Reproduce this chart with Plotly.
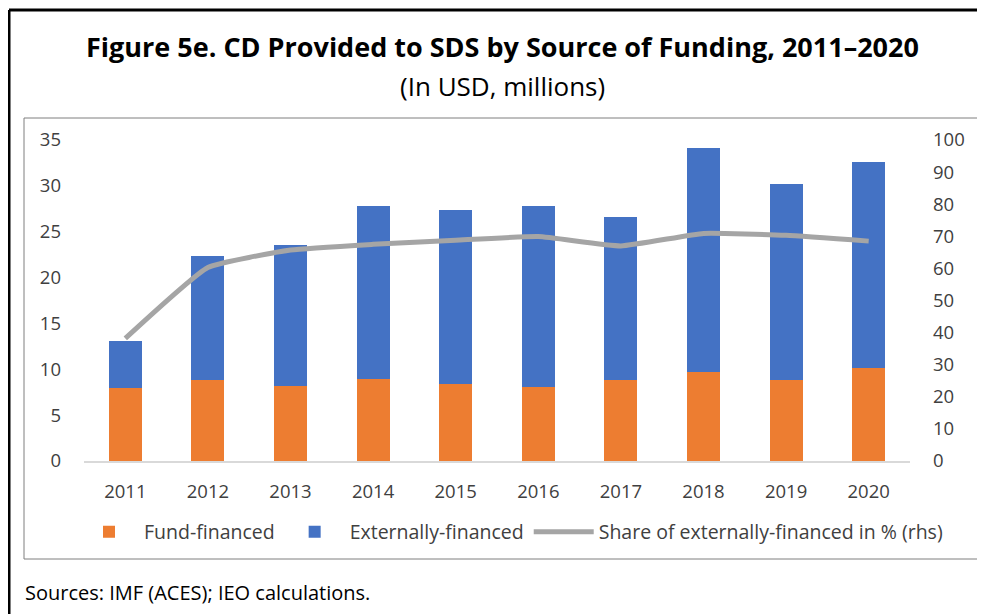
import plotly.graph_objects as go

years = ['2011', '2012', '2013', '2014', '2015', '2016', '2017', '2018', '2019', '2020']
fund_financed = [8.0, 8.8, 8.2, 8.9, 8.4, 8.1, 8.8, 9.7, 8.8, 10.1]
externally_financed = [5.1, 13.5, 15.4, 18.9, 19.0, 19.7, 17.8, 24.4, 21.4, 22.5]
share_external = [38.2, 60.3, 65.7, 67.5, 68.8, 69.9, 67.0, 70.9, 70.3, 68.5]

W, H = 985, 614
OFF = 8  # page body margin
FONT = 'Open Sans'
TXT = '#404040'


def px(x):
    return (x - OFF) / W


def py(y):
    return 1 - (y - OFF) / H


fig = go.Figure()
fig.add_trace(go.Bar(name='Fund-financed', x=years, y=fund_financed,
                     marker=dict(color='#ED7D31', line=dict(width=0))))
fig.add_trace(go.Bar(name='Externally-financed', x=years, y=externally_financed,
                     marker=dict(color='#4472C4', line=dict(width=0))))
fig.add_trace(go.Scatter(name='Share of externally-financed in % (rhs)', x=years, y=share_external,
                         mode='lines', yaxis='y2',
                         line=dict(color='#A5A5A5', width=5, shape='spline', smoothing=0.4)))

fig.update_layout(
    template='none',
    width=W, height=H,
    margin=dict(l=0, r=0, t=0, b=0, pad=0),
    paper_bgcolor='white', plot_bgcolor='white',
    barmode='stack', bargap=0.6,
    font=dict(family=FONT, size=18, color=TXT),
    showlegend=True,
    legend=dict(orientation='h', x=px(511), y=py(532), xanchor='center', yanchor='middle',
                font=dict(size=19.5, color=TXT), traceorder='normal',
                itemwidth=60, tracegroupgap=0, bgcolor='rgba(0,0,0,0)'),
    xaxis=dict(type='category', domain=[px(84), px(910)], showgrid=False, showline=True,
               automargin=False, linecolor='#D9D9D9', linewidth=1.5, ticks='',
               ticklabelstandoff=13, tickfont=dict(size=18.5, color=TXT)),
    yaxis=dict(range=[0, 35], dtick=5, domain=[py(461), py(140)], automargin=False,
               showgrid=False, zeroline=False, ticks='', ticklabelstandoff=22,
               tickfont=dict(size=18.5, color=TXT)),
    yaxis2=dict(range=[0, 100], dtick=10, overlaying='y', side='right', automargin=False,
                showgrid=False, zeroline=False, ticks='', ticklabelstandoff=22,
                tickfont=dict(size=18.5, color=TXT)),
)

fig.add_annotation(text='<b>Figure 5e. CD Provided to SDS by Source of Funding, 2011–2020</b>',
                   x=px(503), y=py(46), xref='paper', yref='paper', showarrow=False,
                   xanchor='center', yanchor='middle',
                   font=dict(family=FONT, size=27, color='black'))
fig.add_annotation(text='(In USD, millions)',
                   x=px(503), y=py(86), xref='paper', yref='paper', showarrow=False,
                   xanchor='center', yanchor='middle',
                   font=dict(family=FONT, size=26, color='black'))
fig.add_annotation(text='Sources: IMF (ACES); IEO calculations.',
                   x=px(23), y=py(592), xref='paper', yref='paper', showarrow=False,
                   xanchor='left', yanchor='middle',
                   font=dict(family=FONT, size=20, color='black'))

# frame lines
fig.add_shape(type='line', xref='paper', yref='paper', x0=px(9), x1=1, y0=py(10), y1=py(10),
              line=dict(color='black', width=3))
fig.add_shape(type='line', xref='paper', yref='paper', x0=px(9), x1=px(9), y0=py(10), y1=0,
              line=dict(color='black', width=3))
fig.add_shape(type='rect', xref='paper', yref='paper', x0=px(24), x1=px(982), y0=py(118), y1=py(559),
              line=dict(color='#7F7F7F', width=1))

fig.write_html('out.html')
